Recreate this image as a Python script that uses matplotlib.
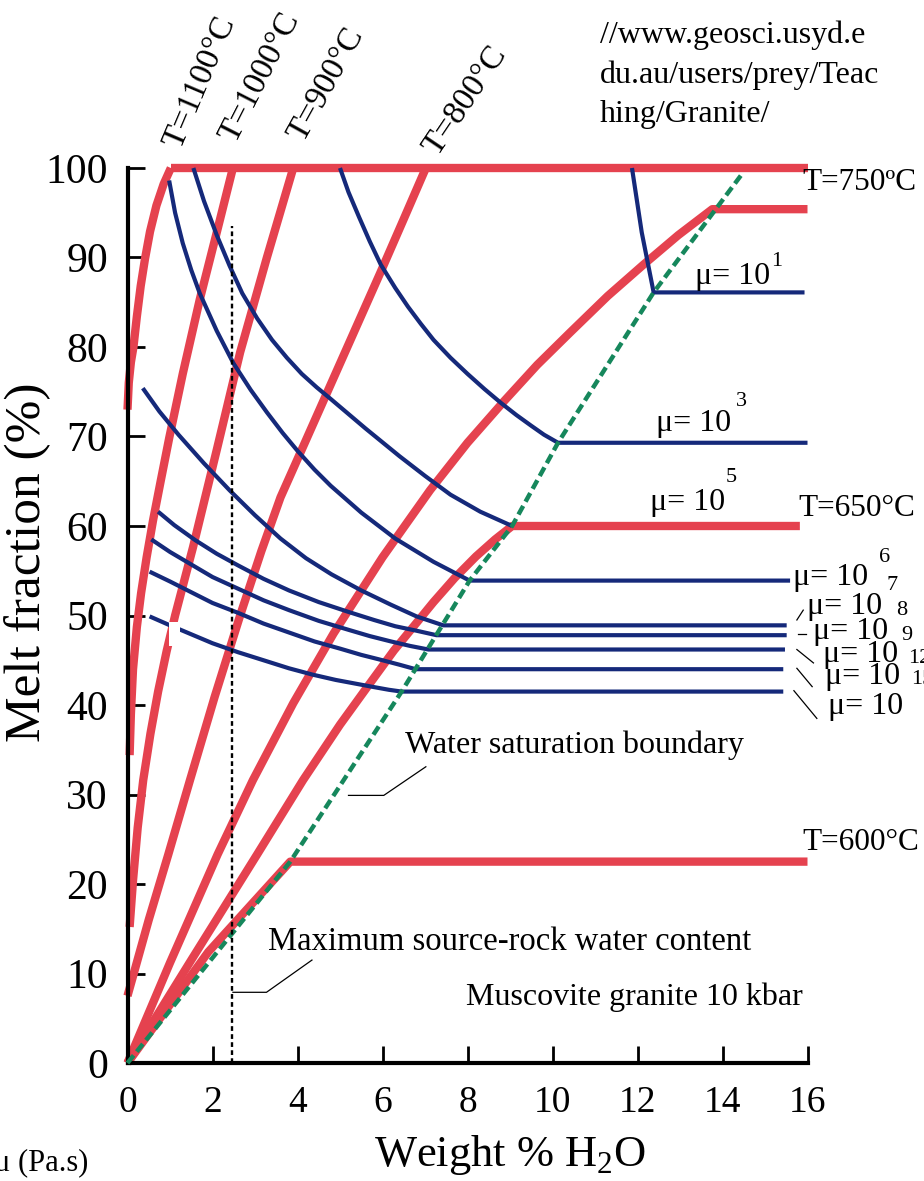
import matplotlib.pyplot as plt
from matplotlib.patches import Rectangle

plt.rcParams['font.family'] = ['Liberation Serif', 'DejaVu Serif']
plt.rcParams['mathtext.fontset'] = 'custom'
plt.rcParams['mathtext.rm'] = 'Liberation Serif'

# ---- values (x = wt% H2O, y = melt fraction %) ----
# isotherms
t1100_x = [0.0, 0.03, 0.08, 0.14, 0.22, 0.31, 0.41, 0.53, 0.68, 0.85, 1.02]
t1100_y = [73.0, 76.0, 78.3, 80.0, 83.4, 86.8, 89.8, 92.9, 95.8, 98.2, 100.0]
t1000_x = [0.05, 0.08, 0.13, 0.22, 0.32, 0.45, 0.60, 0.78, 0.98, 1.30, 1.70, 2.10, 2.48]
t1000_y = [34.4, 39.0, 44.0, 48.7, 52.5, 56.5, 60.6, 65.0, 69.8, 77.0, 85.3, 92.8, 100.0]
t900_x = [0.05, 0.13, 0.24, 0.37, 0.54, 0.72, 0.92, 1.12, 1.54, 2.10, 2.65, 3.28, 3.90]
t900_y = [15.2, 20.4, 26.3, 31.6, 36.8, 41.5, 46.0, 50.0, 57.6, 68.5, 79.4, 90.0, 100.0]
t800_x = [0.0, 0.50, 0.96, 1.47, 2.05, 2.65, 3.15, 3.60, 4.20, 4.78, 5.36, 5.94, 6.50, 7.02]
t800_y = [7.5, 16.0, 23.3, 31.6, 40.9, 50.0, 57.2, 63.2, 69.6, 75.8, 82.0, 88.2, 94.3, 100.0]
t750_x = [0.0, 1.0, 2.12, 2.95, 3.90, 4.85, 6.0, 7.12, 8.0, 8.87, 9.64, 10.41,
          11.3, 12.14, 12.96, 13.76, 16.0]
t750_y = [0.0, 11.2, 23.3, 31.6, 40.2, 48.0, 56.5, 64.0, 69.3, 74.0, 78.0, 81.6,
          85.7, 89.2, 92.5, 95.4, 95.4]
t650_x = [0.0, 1.5, 3.05, 4.13, 5.0, 5.64, 6.27, 7.2, 7.7, 8.2, 8.65, 9.05, 15.82]
t650_y = [0.0, 11.5, 23.3, 31.6, 37.8, 42.0, 46.1, 51.5, 54.2, 56.6, 58.5, 60.0, 60.0]
t600_x = [0.0, 1.9, 3.83, 16.0]
t600_y = [0.0, 12.4, 22.5, 22.5]
full_melt_x = [1.02, 16.0]
full_melt_y = [100.0, 100.0]

# viscosity contours (Pa.s)
mu1_x = [11.87, 12.10, 12.38, 15.93]
mu1_y = [100.0, 92.8, 86.1, 86.1]
mu3_x = [5.0, 5.2, 5.45, 5.7, 5.96, 6.3, 6.6, 6.9, 7.2, 7.6, 8.0, 8.4, 8.8,
         9.15, 9.5, 9.8, 10.13, 16.0]
mu3_y = [100.0, 97.3, 94.5, 91.8, 89.2, 86.6, 84.5, 82.6, 80.8, 78.8, 77.0, 75.3, 73.7,
         72.4, 71.2, 70.2, 69.3, 69.3]
mu5_x = [1.55, 1.8, 2.1, 2.4, 2.7, 3.05, 3.4, 3.75, 4.1, 4.45, 4.78, 5.6, 6.4, 7.0,
         7.6, 8.3, 9.05]
mu5_y = [100.0, 96.3, 92.5, 89.1, 86.0, 83.2, 80.8, 78.8, 77.0, 75.5, 74.2, 70.9, 67.8, 65.6,
         63.5, 61.6, 60.0]
mu6_x = [0.98, 1.12, 1.30, 1.50, 1.70, 2.10, 2.49, 2.90, 3.28, 3.65, 4.0, 4.4, 4.78,
         5.5, 6.3, 7.2, 8.05, 15.59]
mu6_y = [98.6, 95.0, 91.6, 88.6, 86.0, 81.8, 78.2, 75.2, 72.7, 70.4, 68.4, 66.3, 64.5,
         61.5, 58.6, 56.0, 53.9, 53.9]
mu7_x = [0.36, 0.75, 1.2, 1.8, 2.4, 3.0, 3.6, 4.2, 4.8, 5.5, 6.2, 6.8, 7.43, 15.51]
mu7_y = [75.4, 72.8, 70.2, 67.0, 64.0, 61.2, 58.6, 56.4, 54.6, 52.8, 51.2, 49.9, 48.9, 48.9]
mu8_x = [0.72, 1.1, 1.6, 2.1, 2.6, 3.2, 3.8, 4.5, 5.2, 5.8, 6.3, 6.8, 7.27, 15.51]
mu8_y = [61.6, 60.1, 58.4, 56.9, 55.6, 54.1, 52.8, 51.5, 50.4, 49.5, 48.8, 48.3, 47.8, 47.8]
mu9_x = [0.56, 1.0, 1.5, 2.0, 2.6, 3.2, 3.8, 4.5, 5.2, 5.7, 6.2, 6.65, 7.08, 15.47]
mu9_y = [58.5, 57.1, 55.7, 54.3, 53.0, 51.7, 50.6, 49.4, 48.4, 47.7, 47.1, 46.6, 46.2, 46.2]
mu12_x = [0.52, 1.0, 1.5, 2.0, 2.6, 3.2, 3.8, 4.4, 5.0, 5.5, 6.0, 6.4, 6.78, 15.43]
mu12_y = [54.9, 53.8, 52.6, 51.4, 50.3, 49.1, 48.1, 47.1, 46.3, 45.6, 45.0, 44.5, 44.0, 44.0]
mu15_x = [0.52, 1.0, 1.5, 2.0, 2.6, 3.2, 3.8, 4.35, 4.9, 5.35, 5.8, 6.15, 6.45, 15.43]
mu15_y = [49.9, 48.9, 47.9, 46.9, 45.9, 45.0, 44.1, 43.4, 42.8, 42.4, 42.0, 41.7, 41.5, 41.5]

# water saturation boundary
sat_x = [0.0, 3.83, 6.45, 8.05, 9.05, 10.13, 12.38, 14.47]
sat_y = [0.0, 22.5, 41.5, 53.9, 60.0, 69.3, 86.1, 99.4]

# maximum source-rock water content
max_water = 2.46
max_water_top = 93.5

x_ticks = list(range(0, 17, 2))
y_ticks = list(range(0, 101, 10))

RED = '#E5424F'
BLUE = '#15297A'
GREEN = '#16875C'

fig = plt.figure(figsize=(9.24, 11.81), dpi=100)
ax = fig.add_axes([127.5 / 924, 118 / 1181, 680 / 924, 895 / 1181])

reds = [(t1100_x, t1100_y), (t1000_x, t1000_y), (t900_x, t900_y), (t800_x, t800_y),
        (t750_x, t750_y), (t650_x, t650_y), (t600_x, t600_y), (full_melt_x, full_melt_y)]
for xs, ys in reds:
    ax.plot(xs, ys, color=RED, lw=6, solid_capstyle='butt', solid_joinstyle='round',
            clip_on=False, zorder=2)

blues = [(mu1_x, mu1_y), (mu3_x, mu3_y), (mu5_x, mu5_y), (mu6_x, mu6_y), (mu7_x, mu7_y),
         (mu8_x, mu8_y), (mu9_x, mu9_y), (mu12_x, mu12_y), (mu15_x, mu15_y)]
for xs, ys in blues:
    ax.plot(xs, ys, color=BLUE, lw=3, solid_capstyle='butt', solid_joinstyle='round',
            clip_on=False, zorder=3)

# small white blotch where two curves cross in the original
ax.add_patch(Rectangle((0.98, 46.6), 0.26, 2.7, facecolor='white', edgecolor='none', zorder=3.5))

ax.plot(sat_x, sat_y, color=GREEN, lw=3.2, ls=(0, (2.2, 1.1)), clip_on=False, zorder=4)
ax.plot([max_water, max_water], [0, max_water_top], color='black', lw=1.7,
        ls=(0, (2.0, 1.4)), zorder=5)

ax.set_xlim(0, 16)
ax.set_ylim(0, 100)
ax.set_xticks(x_ticks)
ax.set_yticks(y_ticks)
for s in ['top', 'right']:
    ax.spines[s].set_visible(False)
for s in ['left', 'bottom']:
    ax.spines[s].set_linewidth(3)
ax.tick_params(direction='in', length=12, width=2)
ax.tick_params(axis='x', pad=16, labelsize=27)
ax.tick_params(axis='y', pad=14, labelsize=30)

fig.text(28 / 924, 1 - 562 / 1181, 'Melt fraction (%)', rotation=90, fontsize=37,
         ha='center', va='center')
fig.text(510 / 924, 1 - 1155 / 1181, 'Weight % H$_2$O', fontsize=32,
         ha='center', va='center')
fig.text(-6 / 924, 1 - 1163 / 1181, 'μ (Pa.s)', fontsize=22, ha='left', va='center')
fig.text(600 / 924, 1 - 75 / 1181, '//www.geosci.usyd.e\ndu.au/users/prey/Teac\nhing/Granite/',
         fontsize=23, ha='left', va='center', linespacing=1.45)

fs = 24
fr = 22.5
fm = 23
fe = 16
# isotherm labels along the top
ax.text(1.71, 109.6, 'T=1100°C', rotation=67, fontsize=fs, ha='center', va='center')
ax.text(3.13, 110.1, 'T=1000°C', rotation=63, fontsize=fs, ha='center', va='center')
ax.text(4.69, 109.3, 'T=900°C', rotation=61, fontsize=fs, ha='center', va='center')
ax.text(7.95, 107.5, 'T=800°C', rotation=56, fontsize=fs, ha='center', va='center')
# isotherm labels on the right
ax.text(15.89, 98.4, 'T=750ºC', fontsize=fr, ha='left', va='center')
ax.text(15.78, 62.0, 'T=650°C', fontsize=fr, ha='left', va='center')
ax.text(15.87, 24.6, 'T=600°C', fontsize=fr, ha='left', va='center')

# viscosity labels
ax.text(13.35, 87.9, 'μ= 10', fontsize=fm, ha='left', va='center')
ax.text(15.28, 89.6, '1', fontsize=fe, ha='center', va='center')
ax.text(12.44, 71.5, 'μ= 10', fontsize=fm, ha='left', va='center')
ax.text(14.44, 73.9, '3', fontsize=fe, ha='center', va='center')
ax.text(12.29, 62.6, 'μ= 10', fontsize=fm, ha='left', va='center')
ax.text(14.20, 65.4, '5', fontsize=fe, ha='center', va='center')

ax.text(15.66, 54.2, 'μ= 10', fontsize=fm, ha='left', va='center')
ax.text(17.82, 56.5, '6', fontsize=fe, ha='center', va='center')
ax.text(18.00, 53.4, '7', fontsize=fe, ha='center', va='center')
ax.text(15.98, 51.0, 'μ= 10', fontsize=fm, ha='left', va='center')
ax.text(18.22, 50.6, '8', fontsize=fe, ha='center', va='center')
ax.text(16.14, 48.2, 'μ= 10', fontsize=fm, ha='left', va='center')
ax.text(18.33, 47.8, '9', fontsize=fe, ha='center', va='center')
ax.text(16.37, 45.6, 'μ= 10', fontsize=fm, ha='left', va='center')
ax.text(18.36, 45.25, '12', fontsize=fe, ha='left', va='center')
ax.text(16.41, 43.2, 'μ= 10', fontsize=fm, ha='left', va='center')
ax.text(18.43, 42.8, '15', fontsize=fe, ha='left', va='center')
ax.text(16.49, 39.8, 'μ= 10', fontsize=fm, ha='left', va='center')

leaders = [([15.75, 15.90], [49.5, 50.6]), ([15.78, 15.96], [47.9, 47.9]),
           ([15.75, 16.14], [46.2, 44.7]), ([15.75, 16.11], [44.1, 42.05]),
           ([15.68, 16.22], [41.6, 38.5]),
           ([5.2, 6.03, 7.02], [29.9, 29.9, 33.1]),
           ([2.48, 3.27, 4.34], [7.9, 7.9, 11.5])]
for lx, ly in leaders:
    ax.plot(lx, ly, color='black', lw=0.9, clip_on=False, zorder=6)

ax.text(6.53, 35.5, 'Water saturation boundary', fontsize=23, ha='left', va='center')
ax.text(3.31, 13.5, 'Maximum source-rock water content', fontsize=23.5, ha='left', va='center')
ax.text(7.96, 7.3, 'Muscovite granite 10 kbar', fontsize=23, ha='left', va='center')

fig.savefig('out.png', dpi=100)
